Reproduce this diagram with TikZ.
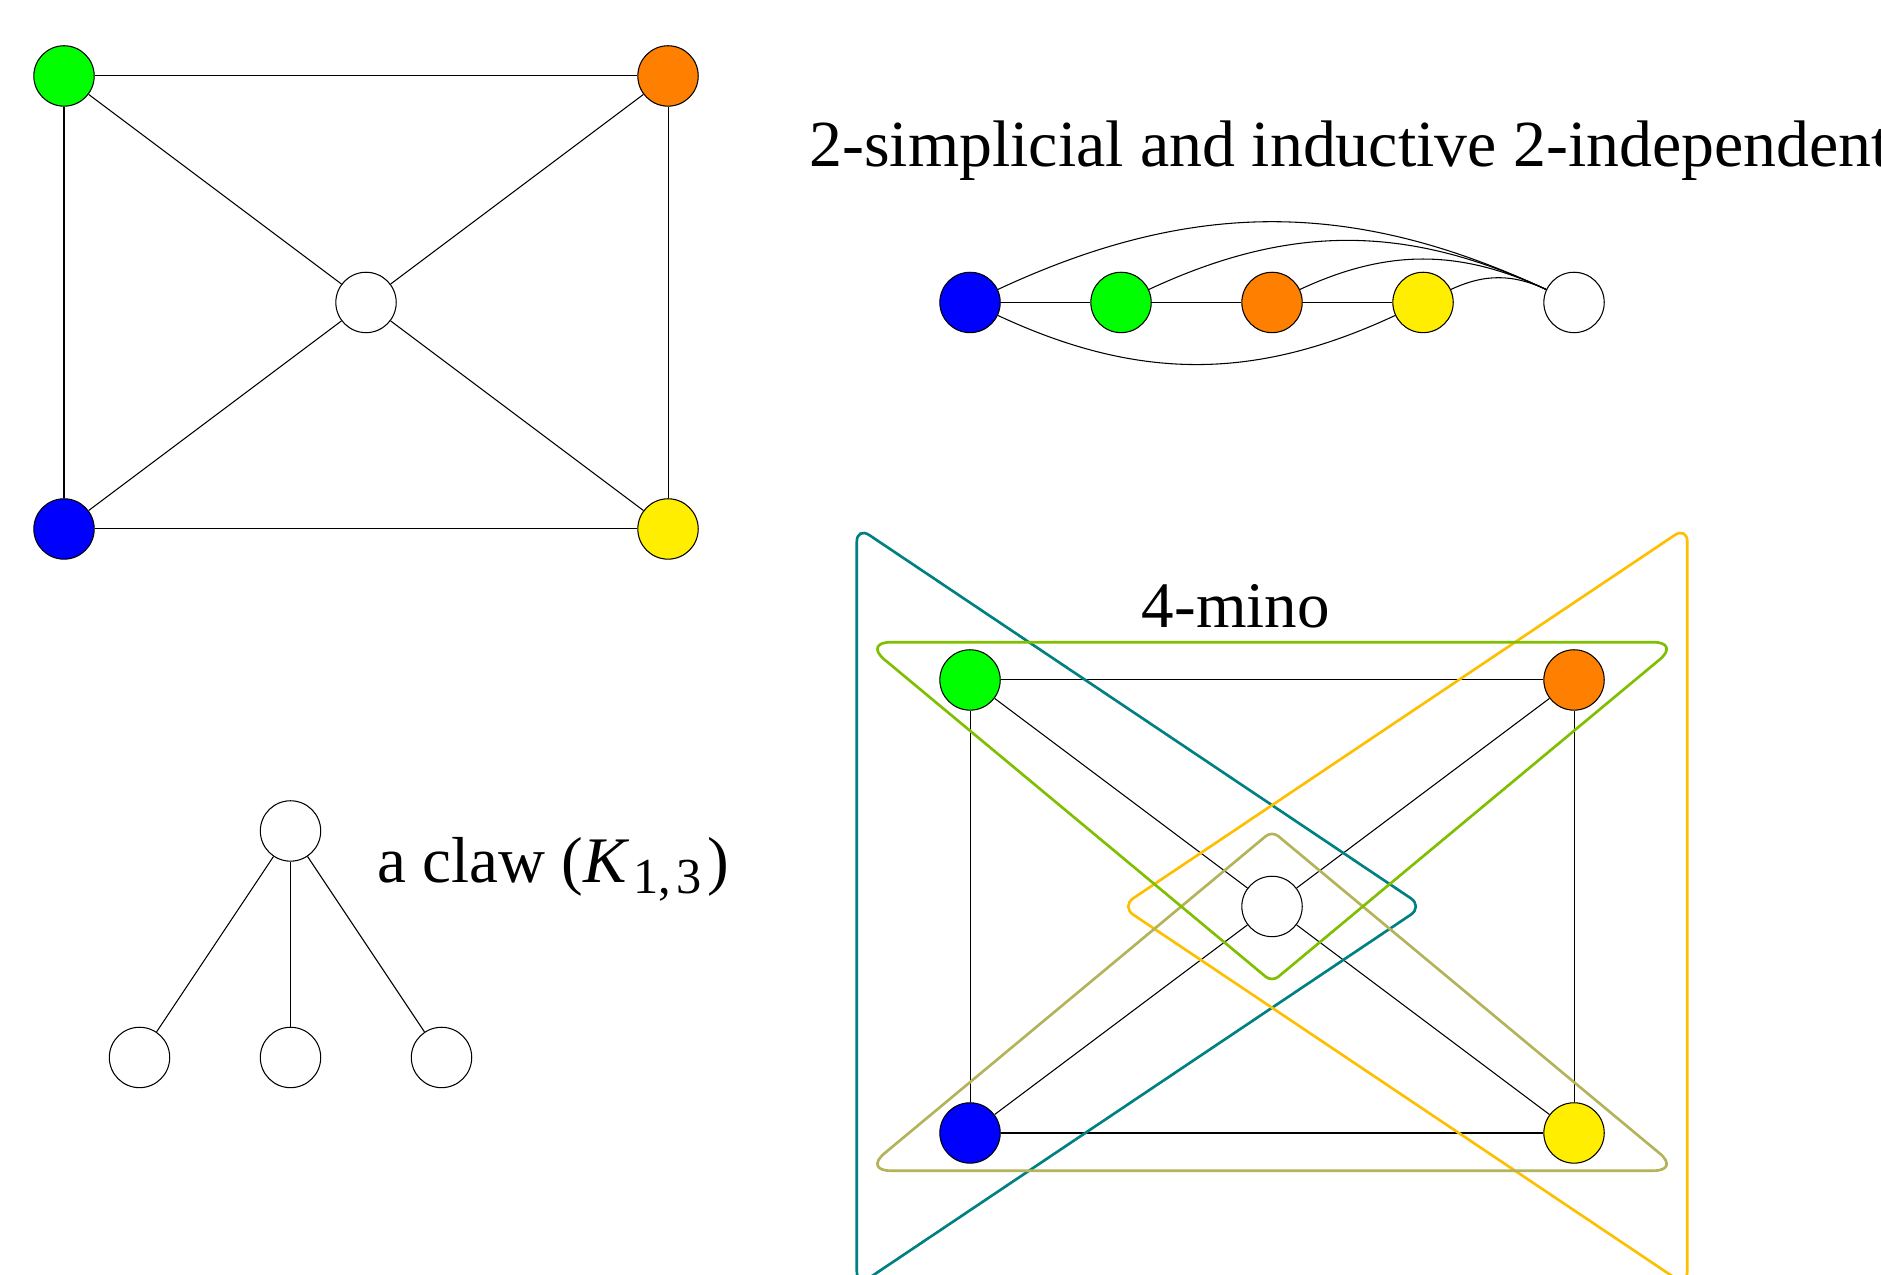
\documentclass[tikz,border=0pt]{standalone}
\usepackage{fontspec}
\setmainfont{Liberation Serif}
\usetikzlibrary{positioning, calc}
\usepackage{xcolor}
\definecolor{vblue}{HTML}{0000FF}
\definecolor{vgreen}{HTML}{00FF00}
\definecolor{vorange}{HTML}{FF8000}
\definecolor{vyellow}{HTML}{FFEE00}
\definecolor{hteal}{HTML}{008080}
\definecolor{hamber}{HTML}{FFBF00}
\definecolor{hlime}{HTML}{80BF00}
\definecolor{holive}{HTML}{B3B35A}
% rounded triangle: colour, three corners, cut length at each corner
\newcommand{\hypertri}[7]{%
  \draw[hedge, #1]
    ($(#2)!#5!(#3)$) -- ($(#3)!#6!(#2)$)
    .. controls ($(#3)!0.45*#6!(#2)$) and ($(#3)!0.45*#6!(#4)$) .. ($(#3)!#6!(#4)$)
    -- ($(#4)!#7!(#3)$)
    .. controls ($(#4)!0.45*#7!(#3)$) and ($(#4)!0.45*#7!(#2)$) .. ($(#4)!#7!(#2)$)
    -- ($(#2)!#5!(#4)$)
    .. controls ($(#2)!0.45*#5!(#4)$) and ($(#2)!0.45*#5!(#3)$) .. ($(#2)!#5!(#3)$)
    -- cycle;}

\begin{document}
\begin{tikzpicture}[font=\fontsize{12.25}{14.7}\selectfont,
    vtx/.style={circle, draw=black, very thin, minimum size=0.4cm, inner sep=0pt},
    link/.style={very thin},
    lbl/.style={inner sep=0pt},
    hedge/.style={line width=0.5pt, line join=round}]
    \useasboundingbox (-0.424,-4.94) rectangle (12.033,3.503);
    % coloured wheel
    \foreach \n/\x/\y/\c in {b1/0/0/vblue, g1/0/3/vgreen, o1/4/3/vorange,
                             y1/4/0/vyellow, w1/2/1.5/white}{
      \node[vtx, fill=\c] (\n) at (\x,\y) {};
    }
    \foreach \a/\b in {g1/o1, o1/y1, y1/b1, b1/g1, w1/g1, w1/o1, w1/y1, w1/b1}
      \draw[link] (\a) -- (\b);
    % ordering
    \node[lbl, anchor=base west, font=\fontsize{12.4}{14.9}\selectfont] (title) at (4.93,2.40)
      {2-simplicial and inductive 2-independent};
    \foreach \n/\x/\c in {b2/6/vblue, g2/7/vgreen, o2/8/vorange, y2/9/vyellow, w2/10/white}{
      \node[vtx, fill=\c] (\n) at (\x,1.5) {};
    }
    \draw[link] (b2) -- (g2) -- (o2) -- (y2);
    \foreach \a in {b2, g2, o2, y2}
      \draw[link] (\a) to[bend left=25] (w2);
    \draw[link] (b2) to[bend right=25] (y2);
    % claw
    \node[vtx] (c0) at (1.5,-2) {};
    \foreach \i/\x in {1/0.5, 2/1.5, 3/2.5}{
      \node[vtx] (c\i) at (\x,-3.5) {};
      \draw[link] (c0) -- (c\i);
    }
    \node[lbl, anchor=base west] (clawlabel) at (2.07,-2.34)
      {a claw (\textit{K}\kern0.8pt\textsubscript{\fontsize{9.5}{11}\selectfont 1,\kern1pt3}\kern0.5pt)};
    % 4-mino
    \node[lbl, anchor=base] (minolabel) at (7.76,-0.65) {4-mino};
    \foreach \n/\x/\y/\c in {b3/6/-4/vblue, g3/6/-1/vgreen, o3/10/-1/vorange,
                             y3/10/-4/vyellow, w3/8/-2.5/white}{
      \node[vtx, fill=\c] (\n) at (\x,\y) {};
    }
    \foreach \a/\b in {g3/o3, o3/y3, y3/b3, b3/g3, w3/g3, w3/o3, w3/y3, w3/b3}
      \draw[link] (\a) -- (\b);
    \hypertri{hteal}{5.25,0.015}{9,-2.5}{5.25,-5.015}{0.1cm}{0.098cm}{0.1cm}
    \hypertri{hamber}{10.75,0.015}{7,-2.5}{10.75,-5.015}{0.1cm}{0.098cm}{0.1cm}
    \hypertri{holive}{5.295,-4.25}{10.705,-4.25}{8,-2}{0.18cm}{0.18cm}{0.053cm}
    \hypertri{hlime}{5.295,-0.75}{10.705,-0.75}{8,-3}{0.18cm}{0.18cm}{0.053cm}
\end{tikzpicture}
\end{document}
